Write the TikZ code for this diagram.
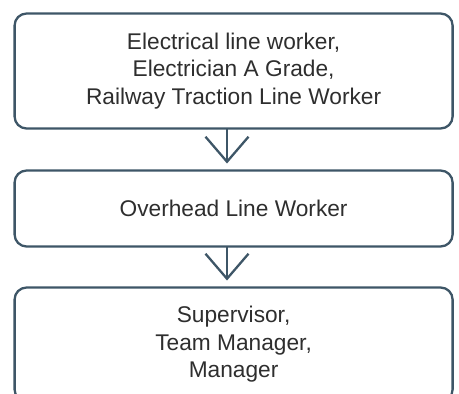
\documentclass[tikz,border=0pt]{standalone}
\usepackage{fontspec}
\setmainfont{Liberation Sans}
\usetikzlibrary{positioning,arrows.meta}
\definecolor{slate}{HTML}{3E5667}
\definecolor{inkgray}{HTML}{2E2E2E}
\tikzset{stepbox/.style={draw=slate, line width=2.3pt, rounded corners=12pt, minimum width=438pt, inner sep=0pt, outer sep=0pt, align=center, text=inkgray, font=\fontsize{22.7}{27.5}\selectfont}}
\tikzset{flow/.style={draw=slate, line width=2.3pt, -{Straight Barb[length=25pt,width=43pt]}, shorten >=7pt}}

\begin{document}
\begin{tikzpicture}[x=1pt,y=-1pt]
\useasboundingbox (0,0) rectangle (459,394);
\clip (0,0) rectangle (459,394);

\node[stepbox, minimum height=115pt] (elec) at (233.6,71) {Electrical line worker,\\Electrician A Grade,\\Railway Traction Line Worker};
\node[stepbox, minimum height=76pt, below=42pt of elec] (ohlw) {Overhead Line Worker};
\node[stepbox, minimum height=114pt, below=41pt of ohlw] (mgmt) {Supervisor,\\Team Manager,\\Manager};

\coordinate (axis) at (227,0);
\draw[flow] (elec.south -| axis) -- (ohlw.north -| axis);
\draw[flow] (ohlw.south -| axis) -- (mgmt.north -| axis);
\end{tikzpicture}
\end{document}
